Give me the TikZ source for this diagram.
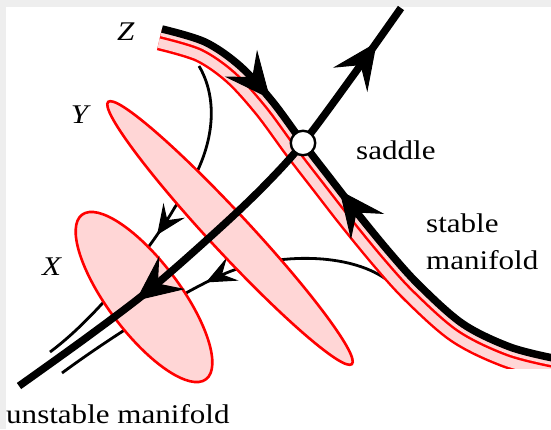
\documentclass[tikz,border=0pt]{standalone}
\usepackage{fontspec}
\setmainfont{Liberation Serif}
\usepackage{graphicx}
\usetikzlibrary{arrows.meta,decorations.markings,shapes.geometric}
\definecolor{bandpink}{RGB}{255,214,214}
\definecolor{edgered}{RGB}{255,0,0}
\definecolor{framegray}{RGB}{238,238,238}
\newcommand\hstr[1]{\scalebox{1.15}[1]{#1}}
\newcommand\stablecurve{plot[smooth,tension=0.55] coordinates {(zs) (205,42) (240,66) (272,101) (sc) (330,178) (358,214) (390,253) (420,286) (463,324) (510,347) (ze)}}
\newcommand\unstablecurve{plot[smooth,tension=0.55] coordinates {(ut) (352,77) (sc) (265,185) (220,228) (153,287) (90,335) (ub)}}
\newcommand\bigarrow{\arrow[line width=1pt]{Stealth[length=46pt,width=42pt,inset=18pt]}}
\newcommand\bigarrowrev{\arrowreversed[line width=1pt]{Stealth[length=46pt,width=42pt,inset=18pt]}}
\newcommand\smallarrow{\arrow[line width=1pt]{Stealth[length=30pt,width=26pt,inset=12pt]}}
\begin{document}
\begin{tikzpicture}[x=1pt,y=-1pt,
  manifold/.style={line width=7.5pt},
  traj/.style={line width=2.8pt},
  region/.style={draw=edgered, fill=bandpink, line width=2.6pt, ellipse, inner sep=0pt},
  lab/.style={font=\fontsize{27}{37}\selectfont, inner sep=0pt},
  saddlenode/.style={circle, draw, fill=white, line width=2.4pt, minimum size=24.5pt, inner sep=0pt}]
\useasboundingbox (0,0) rectangle (551,429);
\fill[framegray] (0,0) rectangle (551,429);
\fill[white] (6,7) rectangle (551,429);

% key points
\coordinate (sc) at (303,143);
\coordinate (zs) at (162,29);
\coordinate (ze) at (553,358);
\coordinate (ut) at (401,8);
\coordinate (ub) at (19,386);
\coordinate (t1s) at (199,66);
\coordinate (t1e) at (50,352);
\coordinate (t2s) at (393,285);
\coordinate (t2e) at (62,373);

% trajectories
\draw[traj, postaction={decorate}, decoration={markings, mark=at position 185pt with {\smallarrow}}]
  (t1s) .. controls (222,105) and (212,160) .. (175,207) .. controls (155,242) and (100,315) .. (t1e);
\draw[traj, postaction={decorate}, decoration={markings, mark=at position 197pt with {\smallarrow}}]
  (t2s) .. controls (365,258) and (300,250) .. (240,268) .. controls (200,280) and (112,336) .. (t2e);

% sets X and Y
\node[region, minimum width=206pt, minimum height=72pt, rotate=-53] (X) at (144,297) {};
\node[region, minimum width=358pt, minimum height=40pt, rotate=-47.1] (Y) at (230,233) {};

% band Z along the stable manifold
\begin{scope}
  \clip \stablecurve -- (553,429) -- (0,429) -- (0,29) -- cycle;
  \clip (0,0) rectangle (553,368);
  \draw[edgered, line width=43.5pt] \stablecurve;
  \draw[bandpink, line width=38.5pt] \stablecurve;
  \draw[edgered, line width=19.5pt] \stablecurve;
  \draw[bandpink, line width=14.5pt] \stablecurve;
\end{scope}

% manifolds
\draw[manifold, postaction={decorate}, decoration={markings,
   mark=at position 132pt with {\bigarrow},
   mark=at position 247pt with {\bigarrowrev}}] \stablecurve;
\draw[manifold, postaction={decorate}, decoration={markings,
   mark=at position 42pt with {\bigarrowrev},
   mark=at position 397pt with {\bigarrow}}] \unstablecurve;

\node[saddlenode] (saddle) at (sc) {};

% labels
\node[lab, anchor=base] (lZ) at (126,40) {\hstr{\textit{Z}}};
\node[lab, anchor=base] (lY) at (81,123) {\hstr{\textit{Y}}};
\node[lab, anchor=base] (lX) at (52,275) {\hstr{\textit{X}}};
\node[lab, anchor=base west] (lsad) at (356,159) {\hstr{saddle}};
\node[lab, anchor=north west, align=left] (lstab) at (426,214) {\hstr{stable}\\\hstr{manifold}};
\node[lab, anchor=base west] (lun) at (6,423) {\hstr{unstable manifold}};
\end{tikzpicture}
\end{document}
